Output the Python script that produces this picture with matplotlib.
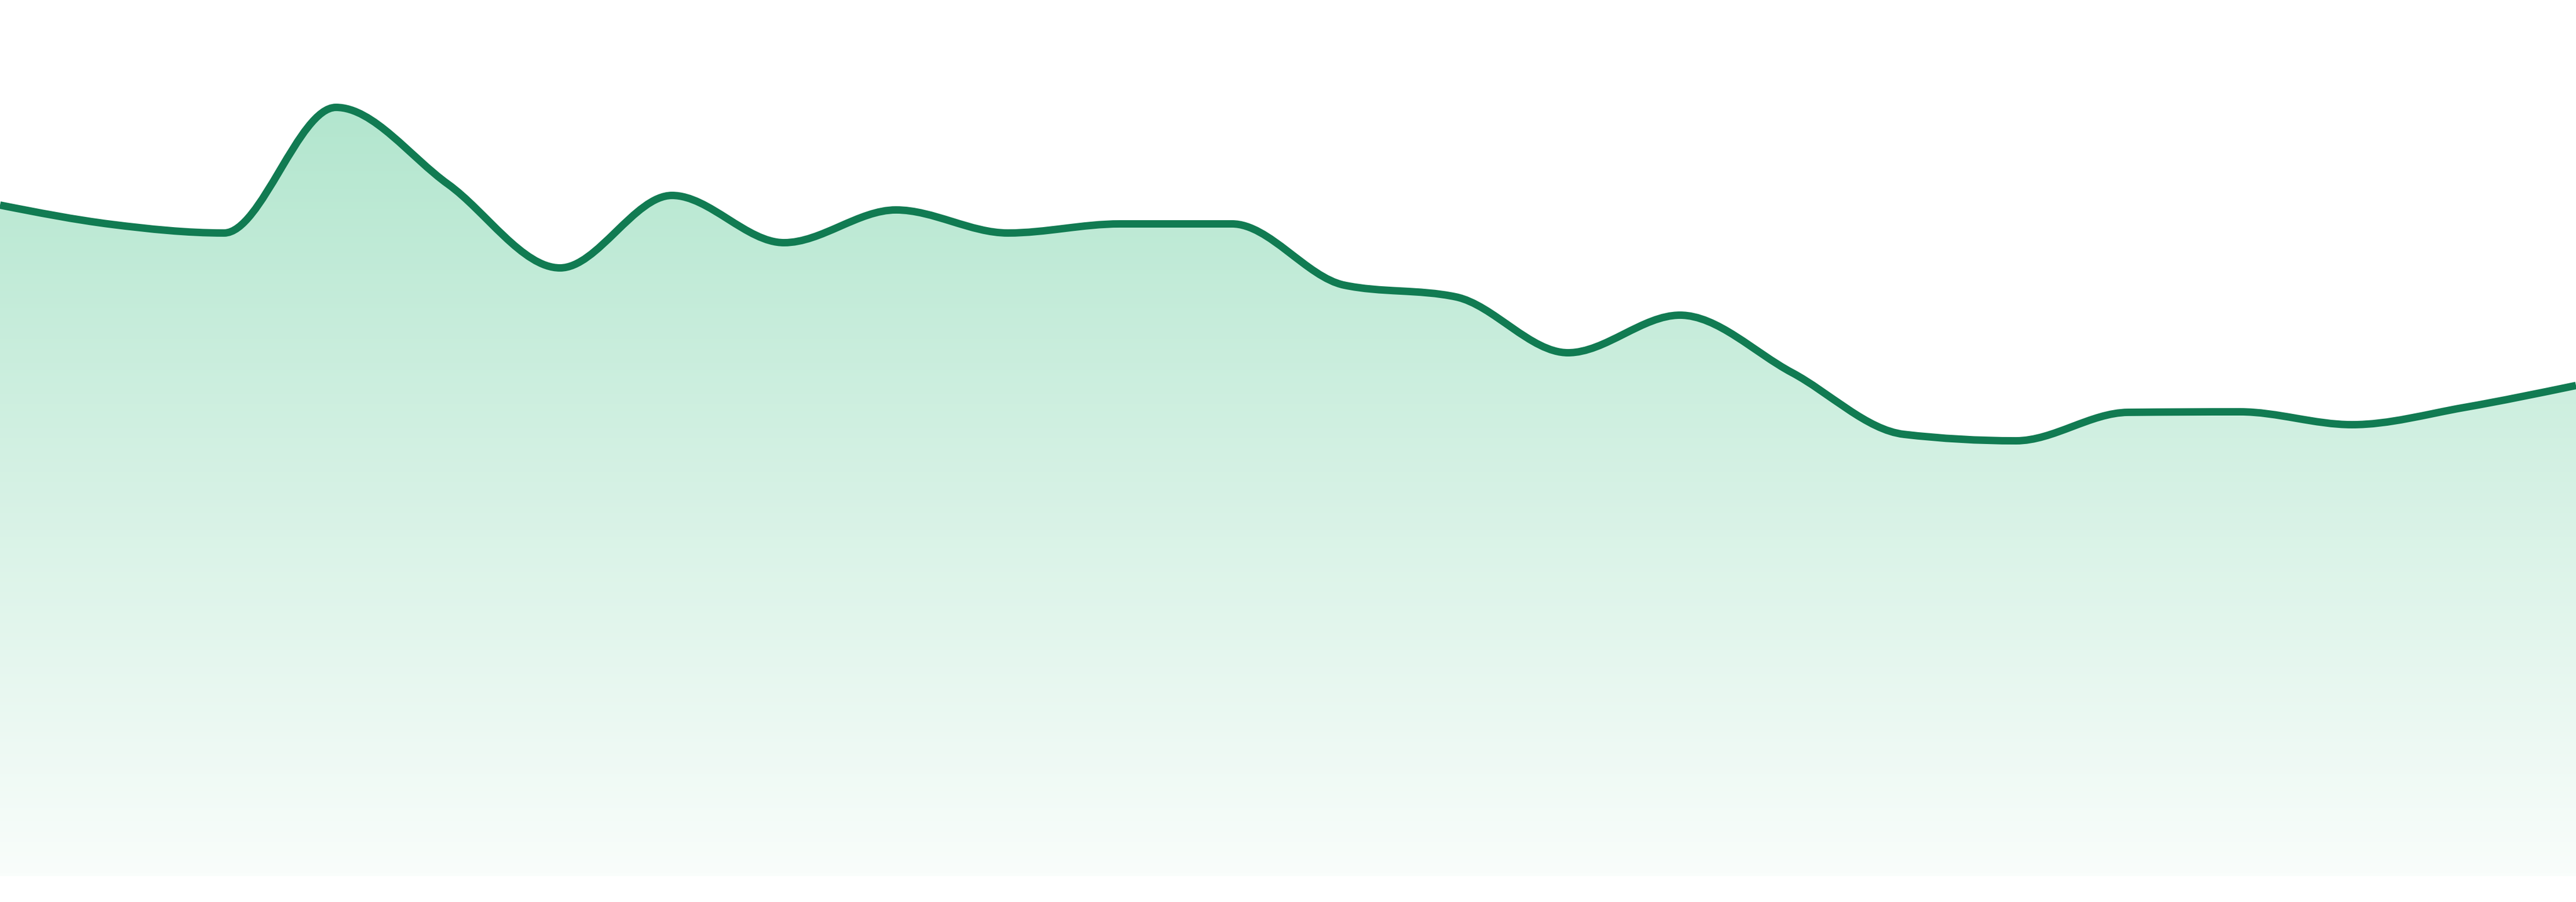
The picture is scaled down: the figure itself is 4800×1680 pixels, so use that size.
import numpy as np
import matplotlib
matplotlib.use("Agg")
import matplotlib.pyplot as plt
from matplotlib.path import Path
from matplotlib.patches import PathPatch
from matplotlib.colors import LinearSegmentedColormap

# series values (24 evenly spaced points)
values = [125.0, 121.4, 119.8, 143.2, 128.9, 113.3, 126.8, 118.0, 124.1, 119.8,
          121.5, 121.5, 110.1, 107.9, 97.5, 104.5, 93.8, 82.3, 81.1, 86.4,
          86.5, 84.1, 87.3, 91.4]
y_max = 163.2

line_color = "#117b52"
fill_top = (169 / 255, 227 / 255, 200 / 255)
fill_bottom = (249 / 255, 253 / 255, 251 / 255)


def monotone_slopes(x, y):
    # same tangents as d3.curveMonotoneX
    h = np.diff(x)
    s = np.diff(y) / h
    t = np.zeros(len(x))
    for i in range(1, len(x) - 1):
        p = (s[i - 1] * h[i] + s[i] * h[i - 1]) / (h[i - 1] + h[i])
        t[i] = (np.sign(s[i - 1]) + np.sign(s[i])) * min(abs(s[i - 1]), abs(s[i]), 0.5 * abs(p))
    t[0] = (3 * s[0] - t[1]) / 2
    t[-1] = (3 * s[-1] - t[-2]) / 2
    return t


def curve_path(x, y, close=False):
    t = monotone_slopes(x, y)
    verts = [(x[0], y[0])]
    codes = [Path.MOVETO]
    for i in range(len(x) - 1):
        dx = (x[i + 1] - x[i]) / 3
        verts += [(x[i] + dx, y[i] + t[i] * dx),
                  (x[i + 1] - dx, y[i + 1] - t[i + 1] * dx),
                  (x[i + 1], y[i + 1])]
        codes += [Path.CURVE4] * 3
    if close:
        verts += [(x[-1], 0), (x[0], 0), (x[0], y[0])]
        codes += [Path.LINETO, Path.LINETO, Path.CLOSEPOLY]
    return Path(verts, codes)


xs = np.arange(len(values), dtype=float)
ys = np.array(values, dtype=float)

fig = plt.figure(figsize=(48, 16.8), dpi=100)
ax = fig.add_axes([0, 48 / 1680, 1, 1 - 48 / 1680])
ax.set_xlim(xs[0], xs[-1])
ax.set_ylim(0, y_max)
ax.set_axis_off()

# gradient area under the curve
area = PathPatch(curve_path(xs, ys, close=True), facecolor="none", edgecolor="none")
ax.add_patch(area)
cmap = LinearSegmentedColormap.from_list("fade", [fill_bottom, fill_top])
grad = np.linspace(0, 1, 256).reshape(-1, 1)
im = ax.imshow(grad, extent=[xs[0], xs[-1], 0, y_max], origin="lower",
               aspect="auto", cmap=cmap, zorder=1)
im.set_clip_path(area)

line = PathPatch(curve_path(xs, ys), facecolor="none", edgecolor=line_color,
                 lw=10, capstyle="butt", joinstyle="round", zorder=2)
ax.add_patch(line)

fig.savefig("out.png", dpi=100)
